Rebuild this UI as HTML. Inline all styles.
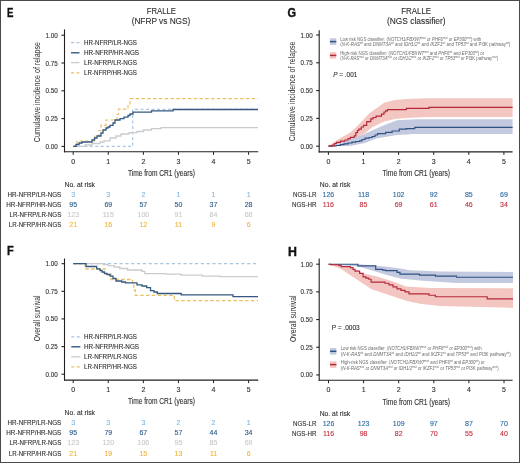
<!DOCTYPE html><html><head><meta charset="utf-8"><style>html,body{margin:0;padding:0;background:#fff;}body{width:520px;height:463px;overflow:hidden;}svg{display:block;will-change:transform;}</style></head><body>
<svg width="520" height="463" viewBox="0 0 520 463" font-family='"Liberation Sans", sans-serif'>
<rect x="0" y="0" width="520" height="463" fill="#fff"/>
<text transform="translate(7.0,16.8) scale(0.80,1)" font-size="12.0" font-weight="bold" fill="#111" stroke="#111" stroke-width="0.35">E</text>
<text x="161.3" y="14.4" font-size="9.1" text-anchor="middle" fill="#303030" font-weight="normal" textLength="29.3" lengthAdjust="spacingAndGlyphs" stroke="#303030" stroke-width="0.12" >FRALLE</text>
<text x="161.0" y="24.1" font-size="8.9" text-anchor="middle" fill="#303030" font-weight="normal" textLength="58.7" lengthAdjust="spacingAndGlyphs" stroke="#303030" stroke-width="0.12" >(NFRP vs NGS)</text>
<line x1="64.5" y1="29.4" x2="64.5" y2="152.3" stroke="#231f20" stroke-width="1.1" />
<line x1="64.0" y1="151.8" x2="258.2" y2="151.8" stroke="#231f20" stroke-width="1.1" />
<line x1="61.5" y1="35.2" x2="64.5" y2="35.2" stroke="#231f20" stroke-width="1.1" />
<text x="57.7" y="37.7" font-size="7" text-anchor="end" fill="#303030" font-weight="normal" textLength="12.2" lengthAdjust="spacingAndGlyphs" stroke="#303030" stroke-width="0.12" >1.00</text>
<line x1="61.5" y1="63.0" x2="64.5" y2="63.0" stroke="#231f20" stroke-width="1.1" />
<text x="57.7" y="65.5" font-size="7" text-anchor="end" fill="#303030" font-weight="normal" textLength="12.2" lengthAdjust="spacingAndGlyphs" stroke="#303030" stroke-width="0.12" >0.75</text>
<line x1="61.5" y1="90.8" x2="64.5" y2="90.8" stroke="#231f20" stroke-width="1.1" />
<text x="57.7" y="93.3" font-size="7" text-anchor="end" fill="#303030" font-weight="normal" textLength="12.2" lengthAdjust="spacingAndGlyphs" stroke="#303030" stroke-width="0.12" >0.50</text>
<line x1="61.5" y1="118.6" x2="64.5" y2="118.6" stroke="#231f20" stroke-width="1.1" />
<text x="57.7" y="121.1" font-size="7" text-anchor="end" fill="#303030" font-weight="normal" textLength="12.2" lengthAdjust="spacingAndGlyphs" stroke="#303030" stroke-width="0.12" >0.25</text>
<line x1="61.5" y1="146.4" x2="64.5" y2="146.4" stroke="#231f20" stroke-width="1.1" />
<text x="57.7" y="148.9" font-size="7" text-anchor="end" fill="#303030" font-weight="normal" textLength="12.2" lengthAdjust="spacingAndGlyphs" stroke="#303030" stroke-width="0.12" >0.00</text>
<line x1="73.2" y1="151.8" x2="73.2" y2="154.8" stroke="#231f20" stroke-width="1" />
<text x="73.2" y="163.8" font-size="7" text-anchor="middle" fill="#303030" font-weight="normal" stroke="#303030" stroke-width="0.12" >0</text>
<line x1="108.28" y1="151.8" x2="108.28" y2="154.8" stroke="#231f20" stroke-width="1" />
<text x="108.28" y="163.8" font-size="7" text-anchor="middle" fill="#303030" font-weight="normal" stroke="#303030" stroke-width="0.12" >1</text>
<line x1="143.36" y1="151.8" x2="143.36" y2="154.8" stroke="#231f20" stroke-width="1" />
<text x="143.36" y="163.8" font-size="7" text-anchor="middle" fill="#303030" font-weight="normal" stroke="#303030" stroke-width="0.12" >2</text>
<line x1="178.44" y1="151.8" x2="178.44" y2="154.8" stroke="#231f20" stroke-width="1" />
<text x="178.44" y="163.8" font-size="7" text-anchor="middle" fill="#303030" font-weight="normal" stroke="#303030" stroke-width="0.12" >3</text>
<line x1="213.52" y1="151.8" x2="213.52" y2="154.8" stroke="#231f20" stroke-width="1" />
<text x="213.52" y="163.8" font-size="7" text-anchor="middle" fill="#303030" font-weight="normal" stroke="#303030" stroke-width="0.12" >4</text>
<line x1="248.6" y1="151.8" x2="248.6" y2="154.8" stroke="#231f20" stroke-width="1" />
<text x="248.6" y="163.8" font-size="7" text-anchor="middle" fill="#303030" font-weight="normal" stroke="#303030" stroke-width="0.12" >5</text>
<text x="0" y="0" font-size="8.8" text-anchor="middle" fill="#303030" textLength="100.2" lengthAdjust="spacingAndGlyphs" transform="translate(39.7,92.1) rotate(-90)">Cumulative incidence of relapse</text>
<text x="161.4" y="176.1" font-size="8.8" text-anchor="middle" fill="#303030" font-weight="normal" textLength="67" lengthAdjust="spacingAndGlyphs" stroke="#303030" stroke-width="0.12" >Time from CR1 (years)</text>
<line x1="71" y1="42.6" x2="79.5" y2="42.6" stroke="#a9c6de" stroke-width="1.3" stroke-dasharray="3 2.5"/>
<text x="84" y="45.1" font-size="7" text-anchor="start" fill="#303030" font-weight="normal" textLength="53" lengthAdjust="spacingAndGlyphs" stroke="#303030" stroke-width="0.12" >HR-NFRP/LR-NGS</text>
<line x1="71" y1="52.8" x2="79.5" y2="52.8" stroke="#34587f" stroke-width="1.4" />
<text x="84" y="55.3" font-size="7" text-anchor="start" fill="#303030" font-weight="normal" textLength="55" lengthAdjust="spacingAndGlyphs" stroke="#303030" stroke-width="0.12" >HR-NFRP/HR-NGS</text>
<line x1="71" y1="62.6" x2="79.5" y2="62.6" stroke="#cbcbcb" stroke-width="1.3" />
<text x="84" y="65.1" font-size="7" text-anchor="start" fill="#303030" font-weight="normal" textLength="53" lengthAdjust="spacingAndGlyphs" stroke="#303030" stroke-width="0.12" >LR-NFRP/LR-NGS</text>
<line x1="71" y1="72.8" x2="79.5" y2="72.8" stroke="#ebc063" stroke-width="1.3" stroke-dasharray="3 2.5"/>
<text x="84" y="75.3" font-size="7" text-anchor="start" fill="#303030" font-weight="normal" textLength="53" lengthAdjust="spacingAndGlyphs" stroke="#303030" stroke-width="0.12" >LR-NFRP/HR-NGS</text>
<path d="M73.2,146.4 H132.7 V109.3 H258" stroke="#a9c6de" stroke-width="1.2" fill="none" stroke-dasharray="3 2.5" stroke-linejoin="miter" stroke-linecap="butt" />
<path d="M73.2,146.4 H85 V145 H92 V143.5 H100 V142 H104 V140.8 H110 V138 H116 V136 H121 V134 H129 V132.7 H137 V131.5 H143.5 V130 H151.5 V128.6 H161 V127.7 H258" stroke="#cbcbcb" stroke-width="1.3" fill="none" stroke-linejoin="miter" stroke-linecap="butt" />
<path d="M73.2,146.4 H77 V141 H95 V136 H99 V130.5 H101 V125.3 H106 V120 H117 V114.5 H118.5 V109.2 H128 V104 H130 V98.7 H258" stroke="#ebc063" stroke-width="1.2" fill="none" stroke-dasharray="3.5 2.3" stroke-linejoin="miter" stroke-linecap="butt" />
<path d="M73.2,146.4 H76 V144.5 H79 V143 H82 V142 H92 V140 H94.5 V138 H97 V136 H101 V133 H103 V130 H106 V128 H108 V127 H110 V125.3 H113 V123 H115 V120 H120 V118.6 H124 V117.2 H128 V115.5 H130 V114 H133 V112.2 H151.5 V110.9 H173 V109.5 H258" stroke="#34587f" stroke-width="1.3" fill="none" stroke-linejoin="miter" stroke-linecap="butt" />
<text x="64.5" y="186.9" font-size="7" text-anchor="start" fill="#303030" font-weight="normal" textLength="30.5" lengthAdjust="spacingAndGlyphs" stroke="#303030" stroke-width="0.12" >No. at risk</text>
<text x="61.3" y="197.0" font-size="7" text-anchor="end" fill="#303030" font-weight="normal" textLength="53.8" lengthAdjust="spacingAndGlyphs" stroke="#303030" stroke-width="0.12" >HR-NFRP/LR-NGS</text>
<text x="73.2" y="197.0" font-size="7" text-anchor="middle" fill="#80b8e2" font-weight="normal" stroke="#80b8e2" stroke-width="0.12" >3</text>
<text x="108.28" y="197.0" font-size="7" text-anchor="middle" fill="#80b8e2" font-weight="normal" stroke="#80b8e2" stroke-width="0.12" >3</text>
<text x="143.36" y="197.0" font-size="7" text-anchor="middle" fill="#80b8e2" font-weight="normal" stroke="#80b8e2" stroke-width="0.12" >2</text>
<text x="178.44" y="197.0" font-size="7" text-anchor="middle" fill="#80b8e2" font-weight="normal" stroke="#80b8e2" stroke-width="0.12" >1</text>
<text x="213.52" y="197.0" font-size="7" text-anchor="middle" fill="#80b8e2" font-weight="normal" stroke="#80b8e2" stroke-width="0.12" >1</text>
<text x="248.6" y="197.0" font-size="7" text-anchor="middle" fill="#80b8e2" font-weight="normal" stroke="#80b8e2" stroke-width="0.12" >1</text>
<text x="61.3" y="207.1" font-size="7" text-anchor="end" fill="#303030" font-weight="normal" textLength="55" lengthAdjust="spacingAndGlyphs" stroke="#303030" stroke-width="0.12" >HR-NFRP/HR-NGS</text>
<text x="73.2" y="207.1" font-size="7" text-anchor="middle" fill="#2c5b8c" font-weight="normal" stroke="#2c5b8c" stroke-width="0.12" >95</text>
<text x="108.28" y="207.1" font-size="7" text-anchor="middle" fill="#2c5b8c" font-weight="normal" stroke="#2c5b8c" stroke-width="0.12" >69</text>
<text x="143.36" y="207.1" font-size="7" text-anchor="middle" fill="#2c5b8c" font-weight="normal" stroke="#2c5b8c" stroke-width="0.12" >57</text>
<text x="178.44" y="207.1" font-size="7" text-anchor="middle" fill="#2c5b8c" font-weight="normal" stroke="#2c5b8c" stroke-width="0.12" >50</text>
<text x="213.52" y="207.1" font-size="7" text-anchor="middle" fill="#2c5b8c" font-weight="normal" stroke="#2c5b8c" stroke-width="0.12" >37</text>
<text x="248.6" y="207.1" font-size="7" text-anchor="middle" fill="#2c5b8c" font-weight="normal" stroke="#2c5b8c" stroke-width="0.12" >28</text>
<text x="61.3" y="217.1" font-size="7" text-anchor="end" fill="#303030" font-weight="normal" textLength="51.8" lengthAdjust="spacingAndGlyphs" stroke="#303030" stroke-width="0.12" >LR-NFRP/LR-NGS</text>
<text x="73.2" y="217.1" font-size="7" text-anchor="middle" fill="#c9c9c9" font-weight="normal" stroke="#c9c9c9" stroke-width="0.12" >123</text>
<text x="108.28" y="217.1" font-size="7" text-anchor="middle" fill="#c9c9c9" font-weight="normal" stroke="#c9c9c9" stroke-width="0.12" >115</text>
<text x="143.36" y="217.1" font-size="7" text-anchor="middle" fill="#c9c9c9" font-weight="normal" stroke="#c9c9c9" stroke-width="0.12" >100</text>
<text x="178.44" y="217.1" font-size="7" text-anchor="middle" fill="#c9c9c9" font-weight="normal" stroke="#c9c9c9" stroke-width="0.12" >91</text>
<text x="213.52" y="217.1" font-size="7" text-anchor="middle" fill="#c9c9c9" font-weight="normal" stroke="#c9c9c9" stroke-width="0.12" >84</text>
<text x="248.6" y="217.1" font-size="7" text-anchor="middle" fill="#c9c9c9" font-weight="normal" stroke="#c9c9c9" stroke-width="0.12" >68</text>
<text x="61.3" y="227.1" font-size="7" text-anchor="end" fill="#303030" font-weight="normal" textLength="52.5" lengthAdjust="spacingAndGlyphs" stroke="#303030" stroke-width="0.12" >LR-NFRP/HR-NGS</text>
<text x="73.2" y="227.1" font-size="7" text-anchor="middle" fill="#efb53c" font-weight="normal" stroke="#efb53c" stroke-width="0.12" >21</text>
<text x="108.28" y="227.1" font-size="7" text-anchor="middle" fill="#efb53c" font-weight="normal" stroke="#efb53c" stroke-width="0.12" >16</text>
<text x="143.36" y="227.1" font-size="7" text-anchor="middle" fill="#efb53c" font-weight="normal" stroke="#efb53c" stroke-width="0.12" >12</text>
<text x="178.44" y="227.1" font-size="7" text-anchor="middle" fill="#efb53c" font-weight="normal" stroke="#efb53c" stroke-width="0.12" >11</text>
<text x="213.52" y="227.1" font-size="7" text-anchor="middle" fill="#efb53c" font-weight="normal" stroke="#efb53c" stroke-width="0.12" >9</text>
<text x="248.6" y="227.1" font-size="7" text-anchor="middle" fill="#efb53c" font-weight="normal" stroke="#efb53c" stroke-width="0.12" >6</text>
<text transform="translate(6.9,254.9) scale(0.92,1)" font-size="12.0" font-weight="bold" fill="#111" stroke="#111" stroke-width="0.35">F</text>
<line x1="64.5" y1="258.5" x2="64.5" y2="380.6" stroke="#231f20" stroke-width="1.1" />
<line x1="64.0" y1="380.1" x2="258.2" y2="380.1" stroke="#231f20" stroke-width="1.1" />
<line x1="61.5" y1="263.7" x2="64.5" y2="263.7" stroke="#231f20" stroke-width="1.1" />
<text x="57.7" y="266.2" font-size="7" text-anchor="end" fill="#303030" font-weight="normal" textLength="12.2" lengthAdjust="spacingAndGlyphs" stroke="#303030" stroke-width="0.12" >1.00</text>
<line x1="61.5" y1="291.3" x2="64.5" y2="291.3" stroke="#231f20" stroke-width="1.1" />
<text x="57.7" y="293.8" font-size="7" text-anchor="end" fill="#303030" font-weight="normal" textLength="12.2" lengthAdjust="spacingAndGlyphs" stroke="#303030" stroke-width="0.12" >0.75</text>
<line x1="61.5" y1="318.9" x2="64.5" y2="318.9" stroke="#231f20" stroke-width="1.1" />
<text x="57.7" y="321.4" font-size="7" text-anchor="end" fill="#303030" font-weight="normal" textLength="12.2" lengthAdjust="spacingAndGlyphs" stroke="#303030" stroke-width="0.12" >0.50</text>
<line x1="61.5" y1="346.6" x2="64.5" y2="346.6" stroke="#231f20" stroke-width="1.1" />
<text x="57.7" y="349.1" font-size="7" text-anchor="end" fill="#303030" font-weight="normal" textLength="12.2" lengthAdjust="spacingAndGlyphs" stroke="#303030" stroke-width="0.12" >0.25</text>
<line x1="61.5" y1="374.2" x2="64.5" y2="374.2" stroke="#231f20" stroke-width="1.1" />
<text x="57.7" y="376.7" font-size="7" text-anchor="end" fill="#303030" font-weight="normal" textLength="12.2" lengthAdjust="spacingAndGlyphs" stroke="#303030" stroke-width="0.12" >0.00</text>
<line x1="73.2" y1="380.1" x2="73.2" y2="383.1" stroke="#231f20" stroke-width="1" />
<text x="73.2" y="392.1" font-size="7" text-anchor="middle" fill="#303030" font-weight="normal" stroke="#303030" stroke-width="0.12" >0</text>
<line x1="108.28" y1="380.1" x2="108.28" y2="383.1" stroke="#231f20" stroke-width="1" />
<text x="108.28" y="392.1" font-size="7" text-anchor="middle" fill="#303030" font-weight="normal" stroke="#303030" stroke-width="0.12" >1</text>
<line x1="143.36" y1="380.1" x2="143.36" y2="383.1" stroke="#231f20" stroke-width="1" />
<text x="143.36" y="392.1" font-size="7" text-anchor="middle" fill="#303030" font-weight="normal" stroke="#303030" stroke-width="0.12" >2</text>
<line x1="178.44" y1="380.1" x2="178.44" y2="383.1" stroke="#231f20" stroke-width="1" />
<text x="178.44" y="392.1" font-size="7" text-anchor="middle" fill="#303030" font-weight="normal" stroke="#303030" stroke-width="0.12" >3</text>
<line x1="213.52" y1="380.1" x2="213.52" y2="383.1" stroke="#231f20" stroke-width="1" />
<text x="213.52" y="392.1" font-size="7" text-anchor="middle" fill="#303030" font-weight="normal" stroke="#303030" stroke-width="0.12" >4</text>
<line x1="248.6" y1="380.1" x2="248.6" y2="383.1" stroke="#231f20" stroke-width="1" />
<text x="248.6" y="392.1" font-size="7" text-anchor="middle" fill="#303030" font-weight="normal" stroke="#303030" stroke-width="0.12" >5</text>
<text x="0" y="0" font-size="8.8" text-anchor="middle" fill="#303030" textLength="45.8" lengthAdjust="spacingAndGlyphs" transform="translate(39.800000000000004,318.4) rotate(-90)">Overall survival</text>
<text x="161.4" y="404.1" font-size="8.8" text-anchor="middle" fill="#303030" font-weight="normal" textLength="67" lengthAdjust="spacingAndGlyphs" stroke="#303030" stroke-width="0.12" >Time from CR1 (years)</text>
<line x1="71.3" y1="336.9" x2="80.4" y2="336.9" stroke="#a9c6de" stroke-width="1.3" stroke-dasharray="3 2.5"/>
<text x="84" y="339.4" font-size="7" text-anchor="start" fill="#303030" font-weight="normal" textLength="53" lengthAdjust="spacingAndGlyphs" stroke="#303030" stroke-width="0.12" >HR-NFRP/LR-NGS</text>
<line x1="71.3" y1="346.8" x2="80.4" y2="346.8" stroke="#34587f" stroke-width="1.4" />
<text x="84" y="349.3" font-size="7" text-anchor="start" fill="#303030" font-weight="normal" textLength="55" lengthAdjust="spacingAndGlyphs" stroke="#303030" stroke-width="0.12" >HR-NFRP/HR-NGS</text>
<line x1="71.3" y1="356.8" x2="80.4" y2="356.8" stroke="#cbcbcb" stroke-width="1.3" />
<text x="84" y="359.3" font-size="7" text-anchor="start" fill="#303030" font-weight="normal" textLength="53" lengthAdjust="spacingAndGlyphs" stroke="#303030" stroke-width="0.12" >LR-NFRP/LR-NGS</text>
<line x1="71.3" y1="366.8" x2="80.4" y2="366.8" stroke="#ebc063" stroke-width="1.3" stroke-dasharray="3 2.5"/>
<text x="84" y="369.3" font-size="7" text-anchor="start" fill="#303030" font-weight="normal" textLength="53" lengthAdjust="spacingAndGlyphs" stroke="#303030" stroke-width="0.12" >LR-NFRP/HR-NGS</text>
<path d="M73.2,263.7 H258" stroke="#a9c6de" stroke-width="1.2" fill="none" stroke-dasharray="3.2 2.6" stroke-linejoin="miter" stroke-linecap="butt" />
<path d="M73.2,263.7 H103.4 V264.5 H108.2 V265.6 H114 V267 H119.8 V268.5 H127.5 V270 H141.9 V271.3 H144.8 V273.6 H165.8 V274.2 H181 V275.2 H202.3 V276.2 H220 V276.7 H258" stroke="#cbcbcb" stroke-width="1.3" fill="none" stroke-linejoin="miter" stroke-linecap="butt" />
<path d="M73.2,263.7 H85.2 V269 H105 V274.2 H111 V279.5 H132.5 V284.8 H133.8 V290 H135.2 V295.3 H174.4 V300.6 H258" stroke="#ebc063" stroke-width="1.3" fill="none" stroke-dasharray="3.5 2.3" stroke-linejoin="miter" stroke-linecap="butt" />
<path d="M73.2,263.7 H86 V266.5 H96.7 V268.8 H100 V270.5 H102 V272 H104.4 V273.3 H107 V274.5 H110 V276.2 H113 V278.5 H116 V281 H121.7 V282 H125.5 V282.9 H137 V284.8 H142 V286 H146.7 V287.7 H150.5 V290.6 H154 V292 H157.3 V293.5 H181.2 V294.8 H233 V296.7 H258" stroke="#34587f" stroke-width="1.3" fill="none" stroke-linejoin="miter" stroke-linecap="butt" />
<text x="64.5" y="415.1" font-size="7" text-anchor="start" fill="#303030" font-weight="normal" textLength="30.5" lengthAdjust="spacingAndGlyphs" stroke="#303030" stroke-width="0.12" >No. at risk</text>
<text x="61.3" y="424.9" font-size="7" text-anchor="end" fill="#303030" font-weight="normal" textLength="53.8" lengthAdjust="spacingAndGlyphs" stroke="#303030" stroke-width="0.12" >HR-NFRP/LR-NGS</text>
<text x="73.2" y="424.9" font-size="7" text-anchor="middle" fill="#80b8e2" font-weight="normal" stroke="#80b8e2" stroke-width="0.12" >3</text>
<text x="108.28" y="424.9" font-size="7" text-anchor="middle" fill="#80b8e2" font-weight="normal" stroke="#80b8e2" stroke-width="0.12" >3</text>
<text x="143.36" y="424.9" font-size="7" text-anchor="middle" fill="#80b8e2" font-weight="normal" stroke="#80b8e2" stroke-width="0.12" >3</text>
<text x="178.44" y="424.9" font-size="7" text-anchor="middle" fill="#80b8e2" font-weight="normal" stroke="#80b8e2" stroke-width="0.12" >2</text>
<text x="213.52" y="424.9" font-size="7" text-anchor="middle" fill="#80b8e2" font-weight="normal" stroke="#80b8e2" stroke-width="0.12" >2</text>
<text x="248.6" y="424.9" font-size="7" text-anchor="middle" fill="#80b8e2" font-weight="normal" stroke="#80b8e2" stroke-width="0.12" >1</text>
<text x="61.3" y="434.9" font-size="7" text-anchor="end" fill="#303030" font-weight="normal" textLength="55" lengthAdjust="spacingAndGlyphs" stroke="#303030" stroke-width="0.12" >HR-NFRP/HR-NGS</text>
<text x="73.2" y="434.9" font-size="7" text-anchor="middle" fill="#2c5b8c" font-weight="normal" stroke="#2c5b8c" stroke-width="0.12" >95</text>
<text x="108.28" y="434.9" font-size="7" text-anchor="middle" fill="#2c5b8c" font-weight="normal" stroke="#2c5b8c" stroke-width="0.12" >79</text>
<text x="143.36" y="434.9" font-size="7" text-anchor="middle" fill="#2c5b8c" font-weight="normal" stroke="#2c5b8c" stroke-width="0.12" >67</text>
<text x="178.44" y="434.9" font-size="7" text-anchor="middle" fill="#2c5b8c" font-weight="normal" stroke="#2c5b8c" stroke-width="0.12" >57</text>
<text x="213.52" y="434.9" font-size="7" text-anchor="middle" fill="#2c5b8c" font-weight="normal" stroke="#2c5b8c" stroke-width="0.12" >44</text>
<text x="248.6" y="434.9" font-size="7" text-anchor="middle" fill="#2c5b8c" font-weight="normal" stroke="#2c5b8c" stroke-width="0.12" >34</text>
<text x="61.3" y="445.2" font-size="7" text-anchor="end" fill="#303030" font-weight="normal" textLength="51.8" lengthAdjust="spacingAndGlyphs" stroke="#303030" stroke-width="0.12" >LR-NFRP/LR-NGS</text>
<text x="73.2" y="445.2" font-size="7" text-anchor="middle" fill="#c9c9c9" font-weight="normal" stroke="#c9c9c9" stroke-width="0.12" >123</text>
<text x="108.28" y="445.2" font-size="7" text-anchor="middle" fill="#c9c9c9" font-weight="normal" stroke="#c9c9c9" stroke-width="0.12" >120</text>
<text x="143.36" y="445.2" font-size="7" text-anchor="middle" fill="#c9c9c9" font-weight="normal" stroke="#c9c9c9" stroke-width="0.12" >106</text>
<text x="178.44" y="445.2" font-size="7" text-anchor="middle" fill="#c9c9c9" font-weight="normal" stroke="#c9c9c9" stroke-width="0.12" >95</text>
<text x="213.52" y="445.2" font-size="7" text-anchor="middle" fill="#c9c9c9" font-weight="normal" stroke="#c9c9c9" stroke-width="0.12" >85</text>
<text x="248.6" y="445.2" font-size="7" text-anchor="middle" fill="#c9c9c9" font-weight="normal" stroke="#c9c9c9" stroke-width="0.12" >69</text>
<text x="61.3" y="455.7" font-size="7" text-anchor="end" fill="#303030" font-weight="normal" textLength="52.5" lengthAdjust="spacingAndGlyphs" stroke="#303030" stroke-width="0.12" >LR-NFRP/HR-NGS</text>
<text x="73.2" y="455.7" font-size="7" text-anchor="middle" fill="#efb53c" font-weight="normal" stroke="#efb53c" stroke-width="0.12" >21</text>
<text x="108.28" y="455.7" font-size="7" text-anchor="middle" fill="#efb53c" font-weight="normal" stroke="#efb53c" stroke-width="0.12" >19</text>
<text x="143.36" y="455.7" font-size="7" text-anchor="middle" fill="#efb53c" font-weight="normal" stroke="#efb53c" stroke-width="0.12" >15</text>
<text x="178.44" y="455.7" font-size="7" text-anchor="middle" fill="#efb53c" font-weight="normal" stroke="#efb53c" stroke-width="0.12" >13</text>
<text x="213.52" y="455.7" font-size="7" text-anchor="middle" fill="#efb53c" font-weight="normal" stroke="#efb53c" stroke-width="0.12" >11</text>
<text x="248.6" y="455.7" font-size="7" text-anchor="middle" fill="#efb53c" font-weight="normal" stroke="#efb53c" stroke-width="0.12" >6</text>
<text transform="translate(287.5,16.9) scale(0.92,1)" font-size="12.0" font-weight="bold" fill="#111" stroke="#111" stroke-width="0.35">G</text>
<text x="416.2" y="14.3" font-size="9.1" text-anchor="middle" fill="#303030" font-weight="normal" textLength="29.9" lengthAdjust="spacingAndGlyphs" stroke="#303030" stroke-width="0.12" >FRALLE</text>
<text x="416.3" y="24.2" font-size="8.9" text-anchor="middle" fill="#303030" font-weight="normal" textLength="58.6" lengthAdjust="spacingAndGlyphs" stroke="#303030" stroke-width="0.12" >(NGS classifier)</text>
<line x1="319.2" y1="30.2" x2="319.2" y2="152.4" stroke="#231f20" stroke-width="1.1" />
<line x1="318.7" y1="151.9" x2="512.6" y2="151.9" stroke="#231f20" stroke-width="1.1" />
<line x1="316.2" y1="35.0" x2="319.2" y2="35.0" stroke="#231f20" stroke-width="1.1" />
<text x="312.8" y="37.5" font-size="7" text-anchor="end" fill="#303030" font-weight="normal" textLength="12.2" lengthAdjust="spacingAndGlyphs" stroke="#303030" stroke-width="0.12" >1.00</text>
<line x1="316.2" y1="62.8" x2="319.2" y2="62.8" stroke="#231f20" stroke-width="1.1" />
<text x="312.8" y="65.3" font-size="7" text-anchor="end" fill="#303030" font-weight="normal" textLength="12.2" lengthAdjust="spacingAndGlyphs" stroke="#303030" stroke-width="0.12" >0.75</text>
<line x1="316.2" y1="90.6" x2="319.2" y2="90.6" stroke="#231f20" stroke-width="1.1" />
<text x="312.8" y="93.1" font-size="7" text-anchor="end" fill="#303030" font-weight="normal" textLength="12.2" lengthAdjust="spacingAndGlyphs" stroke="#303030" stroke-width="0.12" >0.50</text>
<line x1="316.2" y1="118.4" x2="319.2" y2="118.4" stroke="#231f20" stroke-width="1.1" />
<text x="312.8" y="120.9" font-size="7" text-anchor="end" fill="#303030" font-weight="normal" textLength="12.2" lengthAdjust="spacingAndGlyphs" stroke="#303030" stroke-width="0.12" >0.25</text>
<line x1="316.2" y1="146.2" x2="319.2" y2="146.2" stroke="#231f20" stroke-width="1.1" />
<text x="312.8" y="148.7" font-size="7" text-anchor="end" fill="#303030" font-weight="normal" textLength="12.2" lengthAdjust="spacingAndGlyphs" stroke="#303030" stroke-width="0.12" >0.00</text>
<line x1="328.4" y1="151.9" x2="328.4" y2="154.9" stroke="#231f20" stroke-width="1" />
<text x="328.4" y="163.9" font-size="7" text-anchor="middle" fill="#303030" font-weight="normal" stroke="#303030" stroke-width="0.12" >0</text>
<line x1="363.5" y1="151.9" x2="363.5" y2="154.9" stroke="#231f20" stroke-width="1" />
<text x="363.5" y="163.9" font-size="7" text-anchor="middle" fill="#303030" font-weight="normal" stroke="#303030" stroke-width="0.12" >1</text>
<line x1="398.6" y1="151.9" x2="398.6" y2="154.9" stroke="#231f20" stroke-width="1" />
<text x="398.6" y="163.9" font-size="7" text-anchor="middle" fill="#303030" font-weight="normal" stroke="#303030" stroke-width="0.12" >2</text>
<line x1="433.7" y1="151.9" x2="433.7" y2="154.9" stroke="#231f20" stroke-width="1" />
<text x="433.7" y="163.9" font-size="7" text-anchor="middle" fill="#303030" font-weight="normal" stroke="#303030" stroke-width="0.12" >3</text>
<line x1="468.8" y1="151.9" x2="468.8" y2="154.9" stroke="#231f20" stroke-width="1" />
<text x="468.8" y="163.9" font-size="7" text-anchor="middle" fill="#303030" font-weight="normal" stroke="#303030" stroke-width="0.12" >4</text>
<line x1="503.9" y1="151.9" x2="503.9" y2="154.9" stroke="#231f20" stroke-width="1" />
<text x="503.9" y="163.9" font-size="7" text-anchor="middle" fill="#303030" font-weight="normal" stroke="#303030" stroke-width="0.12" >5</text>
<text x="0" y="0" font-size="8.8" text-anchor="middle" fill="#303030" textLength="99.8" lengthAdjust="spacingAndGlyphs" transform="translate(295.20000000000005,91.4) rotate(-90)">Cumulative incidence of relapse</text>
<text x="416.3" y="176.0" font-size="8.8" text-anchor="middle" fill="#303030" font-weight="normal" textLength="67.5" lengthAdjust="spacingAndGlyphs" stroke="#303030" stroke-width="0.12" >Time from CR1 (years)</text>
<rect x="329.9" y="38.300000000000004" width="6.400000000000034" height="6.6" fill="#c3c9df"/>
<line x1="329.9" y1="41.6" x2="336.3" y2="41.6" stroke="#2f5283" stroke-width="1.5" />
<rect x="329.9" y="52.1" width="6.400000000000034" height="6.6" fill="#f3c6c2"/>
<line x1="329.9" y1="55.4" x2="336.3" y2="55.4" stroke="#b8283a" stroke-width="1.5" />
<text x="340.2" y="40.7" font-size="4.7" fill="#6a6a6a" textLength="141" lengthAdjust="spacingAndGlyphs">Low risk NGS classifier: (<tspan font-style="italic">NOTCH1/FBXW7</tspan><tspan font-size="3" baseline-shift="1.7">mut</tspan> or <tspan font-style="italic">PHF6</tspan><tspan font-size="3" baseline-shift="1.7">mut</tspan> or <tspan font-style="italic">EP300</tspan><tspan font-size="3" baseline-shift="1.7">mut</tspan>) with</text>
<text x="340.2" y="46.300000000000004" font-size="4.7" fill="#6a6a6a" textLength="170" lengthAdjust="spacingAndGlyphs">(<tspan font-style="italic">N-K-RAS</tspan><tspan font-size="3" baseline-shift="1.7">wt</tspan> and <tspan font-style="italic">DNMT3A</tspan><tspan font-size="3" baseline-shift="1.7">wt</tspan> and <tspan font-style="italic">IDH1/2</tspan><tspan font-size="3" baseline-shift="1.7">wt</tspan> and <tspan font-style="italic">IKZF1</tspan><tspan font-size="3" baseline-shift="1.7">wt</tspan> and <tspan font-style="italic">TP53</tspan><tspan font-size="3" baseline-shift="1.7">wt</tspan> and PI3K pathway<tspan font-size="3" baseline-shift="1.7">wt</tspan>)</text>
<text x="340.2" y="54.7" font-size="4.7" fill="#6a6a6a" textLength="144" lengthAdjust="spacingAndGlyphs">High-risk NGS classifier: (<tspan font-style="italic">NOTCH1/FBXW7</tspan><tspan font-size="3" baseline-shift="1.7">mut</tspan> and <tspan font-style="italic">PHF6</tspan><tspan font-size="3" baseline-shift="1.7">wt</tspan> and <tspan font-style="italic">EP300</tspan><tspan font-size="3" baseline-shift="1.7">wt</tspan>) or</text>
<text x="340.2" y="60.0" font-size="4.7" fill="#6a6a6a" textLength="158" lengthAdjust="spacingAndGlyphs">(<tspan font-style="italic">N-K-RAS</tspan><tspan font-size="3" baseline-shift="1.7">mut</tspan> or <tspan font-style="italic">DNMT3A</tspan><tspan font-size="3" baseline-shift="1.7">mut</tspan> or <tspan font-style="italic">IDH1/2</tspan><tspan font-size="3" baseline-shift="1.7">mut</tspan> or <tspan font-style="italic">IKZF1</tspan><tspan font-size="3" baseline-shift="1.7">mut</tspan> or <tspan font-style="italic">TP53</tspan><tspan font-size="3" baseline-shift="1.7">mut</tspan> or PI3K pathway<tspan font-size="3" baseline-shift="1.7">mut</tspan>)</text>
<text x="333.3" y="77.1" font-size="7.0" text-anchor="start" fill="#303030" font-weight="normal" textLength="24" lengthAdjust="spacingAndGlyphs" stroke="#303030" stroke-width="0.12" ><tspan font-style="italic">P</tspan> = .001</text>
<path d="M328.4,146.2 L332.7,143 L340.4,138 L350.4,132.5 L357.3,126 L369.4,113.2 L384.2,102.8 L395,100 L406.4,98.9 L426.6,98.3 L512.6,98.3 L512.6,116.9 L426.6,116.9 L406.4,117.9 L395,119 L384.2,121.6 L372.1,127.3 L365,133.3 L358,136.5 L348,144 L340,146 L328.4,146.2 Z" fill="#f3c6c2" stroke="none"/>
<path d="M328.4,146.2 L348,140 L365,133.8 L369.4,131.7 L381.5,126.3 L396.9,120.3 L415.9,119.3 L512.6,119.3 L512.6,134 L414.7,134 L396.9,135.1 L376.1,138.5 L365,143 L350,146 L328.4,146.2 Z" fill="#c3c9df" stroke="none"/>
<path d="M328.4,146.2 H332.7 V146 H336 V145.5 H340.4 V144.6 H344 V143.8 H348 V143 H352 V142.2 H355.8 V141.5 H359.6 V140.8 H362 V139.5 H365 V138.2 H369 V137.5 H372.1 V136.5 H375 V135 H377.5 V133.7 H385.6 V132.4 H392.1 V131 H399.3 V129.2 H406.4 V128.6 H414.7 V127.4 H512.6" stroke="#2f5283" stroke-width="1.2" fill="none" stroke-linejoin="miter" stroke-linecap="butt" />
<path d="M328.4,146.2 H330 V145.9 H332.7 V145.2 H334.5 V143.5 H336.5 V142.3 H340.4 V141.2 H345 V140 H348 V138.6 H350.4 V137.3 H354.2 V135.8 H355.8 V132.7 H357.5 V130.5 H358.8 V129.2 H361.3 V127 H363.5 V125.4 H366.7 V121.6 H370.8 V118.9 H373 V117.5 H376.1 V116.2 H381.5 V114.2 H384 V112 H385.6 V110.8 H387.4 V109.6 H406.4 V108.4 H429 V107.4 H512.6" stroke="#b8283a" stroke-width="1.2" fill="none" stroke-linejoin="miter" stroke-linecap="butt" />
<text x="319.8" y="187.1" font-size="7" text-anchor="start" fill="#303030" font-weight="normal" textLength="30.5" lengthAdjust="spacingAndGlyphs" stroke="#303030" stroke-width="0.12" >No. at risk</text>
<text x="316.5" y="196.9" font-size="7" text-anchor="end" fill="#303030" font-weight="normal" textLength="23.5" lengthAdjust="spacingAndGlyphs" stroke="#303030" stroke-width="0.12" >NGS-LR</text>
<text x="328.4" y="196.9" font-size="7" text-anchor="middle" fill="#2f6aa6" font-weight="normal" stroke="#2f6aa6" stroke-width="0.12" >126</text>
<text x="363.5" y="196.9" font-size="7" text-anchor="middle" fill="#2f6aa6" font-weight="normal" stroke="#2f6aa6" stroke-width="0.12" >118</text>
<text x="398.6" y="196.9" font-size="7" text-anchor="middle" fill="#2f6aa6" font-weight="normal" stroke="#2f6aa6" stroke-width="0.12" >102</text>
<text x="433.7" y="196.9" font-size="7" text-anchor="middle" fill="#2f6aa6" font-weight="normal" stroke="#2f6aa6" stroke-width="0.12" >92</text>
<text x="468.8" y="196.9" font-size="7" text-anchor="middle" fill="#2f6aa6" font-weight="normal" stroke="#2f6aa6" stroke-width="0.12" >85</text>
<text x="503.9" y="196.9" font-size="7" text-anchor="middle" fill="#2f6aa6" font-weight="normal" stroke="#2f6aa6" stroke-width="0.12" >69</text>
<text x="316.5" y="207.2" font-size="7" text-anchor="end" fill="#303030" font-weight="normal" textLength="24.5" lengthAdjust="spacingAndGlyphs" stroke="#303030" stroke-width="0.12" >NGS-HR</text>
<text x="328.4" y="207.2" font-size="7" text-anchor="middle" fill="#c4303e" font-weight="normal" stroke="#c4303e" stroke-width="0.12" >116</text>
<text x="363.5" y="207.2" font-size="7" text-anchor="middle" fill="#c4303e" font-weight="normal" stroke="#c4303e" stroke-width="0.12" >85</text>
<text x="398.6" y="207.2" font-size="7" text-anchor="middle" fill="#c4303e" font-weight="normal" stroke="#c4303e" stroke-width="0.12" >69</text>
<text x="433.7" y="207.2" font-size="7" text-anchor="middle" fill="#c4303e" font-weight="normal" stroke="#c4303e" stroke-width="0.12" >61</text>
<text x="468.8" y="207.2" font-size="7" text-anchor="middle" fill="#c4303e" font-weight="normal" stroke="#c4303e" stroke-width="0.12" >46</text>
<text x="503.9" y="207.2" font-size="7" text-anchor="middle" fill="#c4303e" font-weight="normal" stroke="#c4303e" stroke-width="0.12" >34</text>
<text transform="translate(287.9,255.8) scale(1.03,1)" font-size="12.0" font-weight="bold" fill="#111" stroke="#111" stroke-width="0.35">H</text>
<g transform="translate(0,0.45)">
<line x1="319.2" y1="258" x2="319.2" y2="380.3" stroke="#231f20" stroke-width="1.1" />
<line x1="318.7" y1="379.8" x2="512.6" y2="379.8" stroke="#231f20" stroke-width="1.1" />
<line x1="316.2" y1="263.75" x2="319.2" y2="263.75" stroke="#231f20" stroke-width="1.1" />
<text x="312.8" y="266.25" font-size="7" text-anchor="end" fill="#303030" font-weight="normal" textLength="12.2" lengthAdjust="spacingAndGlyphs" stroke="#303030" stroke-width="0.12" >1.00</text>
<line x1="316.2" y1="291.4" x2="319.2" y2="291.4" stroke="#231f20" stroke-width="1.1" />
<text x="312.8" y="293.9" font-size="7" text-anchor="end" fill="#303030" font-weight="normal" textLength="12.2" lengthAdjust="spacingAndGlyphs" stroke="#303030" stroke-width="0.12" >0.75</text>
<line x1="316.2" y1="319.1" x2="319.2" y2="319.1" stroke="#231f20" stroke-width="1.1" />
<text x="312.8" y="321.6" font-size="7" text-anchor="end" fill="#303030" font-weight="normal" textLength="12.2" lengthAdjust="spacingAndGlyphs" stroke="#303030" stroke-width="0.12" >0.50</text>
<line x1="316.2" y1="346.8" x2="319.2" y2="346.8" stroke="#231f20" stroke-width="1.1" />
<text x="312.8" y="349.3" font-size="7" text-anchor="end" fill="#303030" font-weight="normal" textLength="12.2" lengthAdjust="spacingAndGlyphs" stroke="#303030" stroke-width="0.12" >0.25</text>
<line x1="316.2" y1="374.5" x2="319.2" y2="374.5" stroke="#231f20" stroke-width="1.1" />
<text x="312.8" y="377.0" font-size="7" text-anchor="end" fill="#303030" font-weight="normal" textLength="12.2" lengthAdjust="spacingAndGlyphs" stroke="#303030" stroke-width="0.12" >0.00</text>
<line x1="328.5" y1="379.8" x2="328.5" y2="382.8" stroke="#231f20" stroke-width="1" />
<text x="328.5" y="391.8" font-size="7" text-anchor="middle" fill="#303030" font-weight="normal" stroke="#303030" stroke-width="0.12" >0</text>
<line x1="363.6" y1="379.8" x2="363.6" y2="382.8" stroke="#231f20" stroke-width="1" />
<text x="363.6" y="391.8" font-size="7" text-anchor="middle" fill="#303030" font-weight="normal" stroke="#303030" stroke-width="0.12" >1</text>
<line x1="398.7" y1="379.8" x2="398.7" y2="382.8" stroke="#231f20" stroke-width="1" />
<text x="398.7" y="391.8" font-size="7" text-anchor="middle" fill="#303030" font-weight="normal" stroke="#303030" stroke-width="0.12" >2</text>
<line x1="433.8" y1="379.8" x2="433.8" y2="382.8" stroke="#231f20" stroke-width="1" />
<text x="433.8" y="391.8" font-size="7" text-anchor="middle" fill="#303030" font-weight="normal" stroke="#303030" stroke-width="0.12" >3</text>
<line x1="468.9" y1="379.8" x2="468.9" y2="382.8" stroke="#231f20" stroke-width="1" />
<text x="468.9" y="391.8" font-size="7" text-anchor="middle" fill="#303030" font-weight="normal" stroke="#303030" stroke-width="0.12" >4</text>
<line x1="504.0" y1="379.8" x2="504.0" y2="382.8" stroke="#231f20" stroke-width="1" />
<text x="504.0" y="391.8" font-size="7" text-anchor="middle" fill="#303030" font-weight="normal" stroke="#303030" stroke-width="0.12" >5</text>
<text x="0" y="0" font-size="8.8" text-anchor="middle" fill="#303030" textLength="46.4" lengthAdjust="spacingAndGlyphs" transform="translate(295.5,318.3) rotate(-90)">Overall survival</text>
<text x="416.3" y="404.20000000000005" font-size="8.8" text-anchor="middle" fill="#303030" font-weight="normal" textLength="67.5" lengthAdjust="spacingAndGlyphs" stroke="#303030" stroke-width="0.12" >Time from CR1 (years)</text>
</g>
<rect x="330" y="348.0" width="6.399999999999977" height="6.6" fill="#c3c9df"/>
<line x1="330" y1="351.3" x2="336.4" y2="351.3" stroke="#2f5283" stroke-width="1.5" />
<rect x="330" y="361.3" width="6.399999999999977" height="6.6" fill="#f3c6c2"/>
<line x1="330" y1="364.6" x2="336.4" y2="364.6" stroke="#b8283a" stroke-width="1.5" />
<text x="340.7" y="350.3" font-size="4.7" fill="#6a6a6a" textLength="141" lengthAdjust="spacingAndGlyphs">Low risk NGS classifier: (<tspan font-style="italic">NOTCH1/FBXW7</tspan><tspan font-size="3" baseline-shift="1.7">mut</tspan> or <tspan font-style="italic">PHF6</tspan><tspan font-size="3" baseline-shift="1.7">mut</tspan> or <tspan font-style="italic">EP300</tspan><tspan font-size="3" baseline-shift="1.7">mut</tspan>) with</text>
<text x="340.7" y="355.9" font-size="4.7" fill="#6a6a6a" textLength="170" lengthAdjust="spacingAndGlyphs">(<tspan font-style="italic">N-K-RAS</tspan><tspan font-size="3" baseline-shift="1.7">wt</tspan> and <tspan font-style="italic">DNMT3A</tspan><tspan font-size="3" baseline-shift="1.7">wt</tspan> and <tspan font-style="italic">IDH1/2</tspan><tspan font-size="3" baseline-shift="1.7">wt</tspan> and <tspan font-style="italic">IKZF1</tspan><tspan font-size="3" baseline-shift="1.7">wt</tspan> and <tspan font-style="italic">TP53</tspan><tspan font-size="3" baseline-shift="1.7">wt</tspan> and PI3K pathway<tspan font-size="3" baseline-shift="1.7">wt</tspan>)</text>
<text x="340.7" y="364.3" font-size="4.7" fill="#6a6a6a" textLength="144" lengthAdjust="spacingAndGlyphs">High-risk NGS classifier: (<tspan font-style="italic">NOTCH1/FBXW7</tspan><tspan font-size="3" baseline-shift="1.7">mut</tspan> and <tspan font-style="italic">PHF6</tspan><tspan font-size="3" baseline-shift="1.7">wt</tspan> and <tspan font-style="italic">EP300</tspan><tspan font-size="3" baseline-shift="1.7">wt</tspan>) or</text>
<text x="340.7" y="369.59999999999997" font-size="4.7" fill="#6a6a6a" textLength="158" lengthAdjust="spacingAndGlyphs">(<tspan font-style="italic">N-K-RAS</tspan><tspan font-size="3" baseline-shift="1.7">mut</tspan> or <tspan font-style="italic">DNMT3A</tspan><tspan font-size="3" baseline-shift="1.7">mut</tspan> or <tspan font-style="italic">IDH1/2</tspan><tspan font-size="3" baseline-shift="1.7">mut</tspan> or <tspan font-style="italic">IKZF1</tspan><tspan font-size="3" baseline-shift="1.7">mut</tspan> or <tspan font-style="italic">TP53</tspan><tspan font-size="3" baseline-shift="1.7">mut</tspan> or PI3K pathway<tspan font-size="3" baseline-shift="1.7">mut</tspan>)</text>
<text x="331.7" y="329.8" font-size="7.0" text-anchor="start" fill="#303030" font-weight="normal" textLength="28.0" lengthAdjust="spacingAndGlyphs" stroke="#303030" stroke-width="0.12" >P = .0003</text>
<g transform="translate(0,0.45)">
<path d="M328.5,263.8 L340,264.9 L351.5,267.2 L361.9,272.5 L377,276 L394.6,281.5 L406,286 L430,287.5 L513,287.8 L513,307.5 L440,305.5 L420,303.2 L406,300.4 L388.8,294.6 L371.5,288.8 L353.8,277 L341.1,268.5 L328.5,263.8 Z" fill="#f3c6c2" stroke="none"/>
<path d="M328.5,263.8 L358.5,263.8 L385,266 L400,268 L410,269.8 L440,271 L513,271.5 L513,282.6 L456,282.5 L420,280 L400,278 L385,274.1 L374.6,270.7 L358.5,266 L328.5,263.8 Z" fill="#c3c9df" stroke="none"/>
<path d="M328.5,263.8 H357.9 V265.5 H375.7 V269 H382.7 V269.6 H385.5 V270.2 H397 V272 H400 V273.6 H419.5 V274.7 H435.4 V275.7 H456.5 V276.8 H513" stroke="#2f5283" stroke-width="1.2" fill="none" stroke-linejoin="miter" stroke-linecap="butt" />
<path d="M328.5,263.8 H330.8 V264.3 H338.8 V264.9 H341.1 V266.1 H350.4 V267.2 H353 V269 H355 V270.7 H359.6 V273 H363.1 V276.5 H366 V277.7 H368.8 V278.8 H371.1 V281.6 H385 V282.8 H389 V284.5 H393 V286.5 H397 V288.5 H401 V290 H405 V291.5 H409 V293.5 H429 V294.8 H435.4 V296.3 H487.2 V298.4 H513" stroke="#b8283a" stroke-width="1.2" fill="none" stroke-linejoin="miter" stroke-linecap="butt" />
</g>
<text x="319.7" y="415.6" font-size="7" text-anchor="start" fill="#303030" font-weight="normal" textLength="30.5" lengthAdjust="spacingAndGlyphs" stroke="#303030" stroke-width="0.12" >No. at risk</text>
<text x="316.5" y="425.5" font-size="7" text-anchor="end" fill="#303030" font-weight="normal" textLength="23.5" lengthAdjust="spacingAndGlyphs" stroke="#303030" stroke-width="0.12" >NGS-LR</text>
<text x="328.5" y="425.5" font-size="7" text-anchor="middle" fill="#2f6aa6" font-weight="normal" stroke="#2f6aa6" stroke-width="0.12" >126</text>
<text x="363.6" y="425.5" font-size="7" text-anchor="middle" fill="#2f6aa6" font-weight="normal" stroke="#2f6aa6" stroke-width="0.12" >123</text>
<text x="398.7" y="425.5" font-size="7" text-anchor="middle" fill="#2f6aa6" font-weight="normal" stroke="#2f6aa6" stroke-width="0.12" >109</text>
<text x="433.8" y="425.5" font-size="7" text-anchor="middle" fill="#2f6aa6" font-weight="normal" stroke="#2f6aa6" stroke-width="0.12" >97</text>
<text x="468.9" y="425.5" font-size="7" text-anchor="middle" fill="#2f6aa6" font-weight="normal" stroke="#2f6aa6" stroke-width="0.12" >87</text>
<text x="504.0" y="425.5" font-size="7" text-anchor="middle" fill="#2f6aa6" font-weight="normal" stroke="#2f6aa6" stroke-width="0.12" >70</text>
<text x="316.5" y="435.7" font-size="7" text-anchor="end" fill="#303030" font-weight="normal" textLength="24.5" lengthAdjust="spacingAndGlyphs" stroke="#303030" stroke-width="0.12" >NGS-HR</text>
<text x="328.5" y="435.7" font-size="7" text-anchor="middle" fill="#c4303e" font-weight="normal" stroke="#c4303e" stroke-width="0.12" >116</text>
<text x="363.6" y="435.7" font-size="7" text-anchor="middle" fill="#c4303e" font-weight="normal" stroke="#c4303e" stroke-width="0.12" >98</text>
<text x="398.7" y="435.7" font-size="7" text-anchor="middle" fill="#c4303e" font-weight="normal" stroke="#c4303e" stroke-width="0.12" >82</text>
<text x="433.8" y="435.7" font-size="7" text-anchor="middle" fill="#c4303e" font-weight="normal" stroke="#c4303e" stroke-width="0.12" >70</text>
<text x="468.9" y="435.7" font-size="7" text-anchor="middle" fill="#c4303e" font-weight="normal" stroke="#c4303e" stroke-width="0.12" >55</text>
<text x="504.0" y="435.7" font-size="7" text-anchor="middle" fill="#c4303e" font-weight="normal" stroke="#c4303e" stroke-width="0.12" >40</text>
<rect x="0.5" y="0.5" width="519" height="462" fill="none" stroke="#4a4a4a" stroke-width="1"/>
</svg></body></html>
